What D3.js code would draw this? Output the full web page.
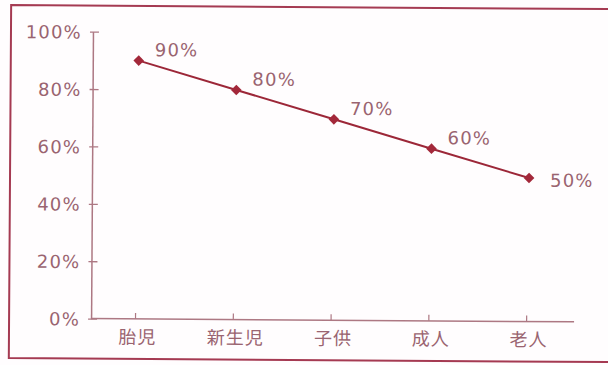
<!DOCTYPE html>
<html><head><meta charset="utf-8">
<script src="https://cdn.jsdelivr.net/npm/d3@7"></script>
<style>
html,body{margin:0;padding:0;background:#fff;}
svg{display:block;}
</style></head>
<body>
<svg id="chart" width="608" height="365"></svg>
<script>
const categories = ["胎児", "新生児", "子供", "成人", "老人"];
const values = [90, 80, 70, 60, 50];
const yTicks = [0, 20, 40, 60, 80, 100];

const svg = d3.select("#chart");
const W = 608, H = 365;
const textColor = "#9a6470";
const axisColor = "#ad7883";
const lineColor = "#9c2738";

svg.append("rect").attr("width", W).attr("height", H).attr("fill", "#fffdfe");

const root = svg.append("g").attr("transform", "rotate(0.38,300,180)");

// border frame
root.append("path")
  .attr("d", "M640,7 L10,7 L10,360 L640,360")
  .attr("fill", "none").attr("stroke", "#a53a52").attr("stroke-width", 2);

const x = d3.scalePoint().domain(categories).range([92, 575]).padding(0.47);
const y = d3.scaleLinear().domain([0, 100]).range([320, 33]);

const fontNum = "'DejaVu Sans', sans-serif";
const fontCJK = "'Noto Sans CJK JP', sans-serif";

// Y axis
const yAxis = d3.axisLeft(y).tickValues(yTicks).tickFormat(d => d + "%").tickSize(0).tickPadding(11);
const gy = root.append("g").attr("transform", "translate(92,0)").call(yAxis);
gy.select(".domain").attr("stroke", axisColor).attr("stroke-width", 1.5);
gy.selectAll(".tick line").remove();
gy.selectAll(".tick").append("line")
  .attr("x1", -3).attr("x2", 6).attr("stroke", axisColor).attr("stroke-width", 1.3);
gy.selectAll(".tick text")
  .attr("fill", textColor).attr("font-family", fontNum).attr("font-size", 18)
  .attr("letter-spacing", 1.2).attr("dy", "0.36em");

// X axis
const xAxis = d3.axisBottom(x).tickSizeInner(-6).tickSizeOuter(0).tickPadding(12);
const gx = root.append("g").attr("transform", "translate(0,320)").call(xAxis);
gx.select(".domain").attr("stroke", axisColor).attr("stroke-width", 1.5)
  .attr("d", "M92,0H575");
gx.selectAll(".tick line").attr("stroke", axisColor).attr("stroke-width", 1.2)
  .attr("transform", "translate(-2,0)");
gx.selectAll(".tick text")
  .attr("fill", textColor).attr("font-family", fontCJK).attr("font-size", 18)
  .attr("letter-spacing", 1).attr("dy", "0.7em");

// line
const data = categories.map((c, i) => ({c, v: values[i]}));
root.append("path").datum(data)
  .attr("fill", "none").attr("stroke", lineColor).attr("stroke-width", 2)
  .attr("d", d3.line().x(d => x(d.c)).y(d => y(d.v)));

// markers
root.selectAll(".mk").data(data).enter().append("path")
  .attr("class", "mk")
  .attr("d", d3.symbol().type(d3.symbolDiamond2).size(72))
  .attr("transform", d => `translate(${x(d.c)},${y(d.v)})`)
  .attr("fill", "#a3283a");

// value labels
const last = data.length - 1;
root.selectAll(".lb").data(data).enter().append("text")
  .attr("class", "lb")
  .attr("x", (d, i) => x(d.c) + (i === last ? 21 : 16))
  .attr("y", (d, i) => y(d.v) + (i === last ? 2 : -11))
  .attr("dy", "0.36em")
  .attr("fill", textColor).attr("font-family", fontNum).attr("font-size", 18)
  .attr("letter-spacing", 1.2)
  .text(d => d.v + "%");
</script>
</body></html>
